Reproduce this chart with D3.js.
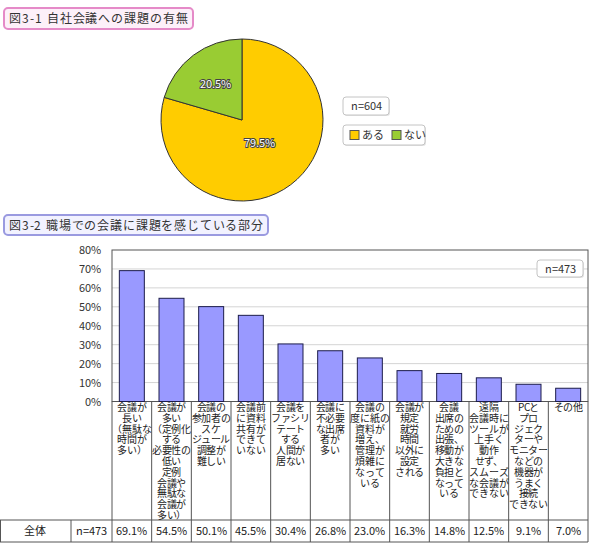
<!DOCTYPE html>
<html>
<head>
<meta charset="utf-8">
<script src="https://cdn.jsdelivr.net/npm/d3@7"></script>
<style>
  /* same CJK font, with the em box as line box so stacked lines sit tight */
  @font-face {
    font-family: "CJKTight";
    src: local("Noto Sans CJK JP"), local("Noto Sans CJK JP Regular"), local("NotoSansCJKjp-Regular");
    ascent-override: 88%;
    descent-override: 12%;
    line-gap-override: 0%;
  }
  body { margin: 0; background: #fff; }
  text { font-family: "CJKTight", "Noto Sans CJK JP", "Noto Sans", sans-serif; }
</style>
</head>
<body>
<div id="roott"></div>
<script>
// pie data
let pieLabels = ["ある", "ない"];
let pieValues = [79.5, 20.5];
let pieColors = ["#ffcc00", "#99cc33"];
let pieN = "n=604";

// bar data
let categories = [
  "会議が\n長い\n（無駄な\n時間が\n多い）",
  "会議が\n多い\n（定例化\nする\n必要性の\n低い\n定例\n会議や\n無駄な\n会議が\n多い）",
  "会議の\n参加者の\nスケ\nジュール\n調整が\n難しい",
  "会議前\nに資料\n共有が\nできて\nいない",
  "会議を\nファシリ\nテート\nする\n人間が\n居ない",
  "会議に\n不必要\nな出席\n者が\n多い",
  "会議の\n度に紙の\n資料が\n増え、\n管理が\n煩雑に\nなって\nいる",
  "会議が\n規定\n就労\n時間\n以外に\n設定\nされる",
  "会議\n出席の\nための\n出張、\n移動が\n大きな\n負担と\nなって\nいる",
  "遠隔\n会議時に\nツールが\n上手く\n動作\nせず、\nスムーズ\nな会議が\nできない",
  "PCと\nプロ\nジェク\nターや\nモニター\nなどの\n機器が\nうまく\n接続\nできない",
  "その他"
];
let barValues = [69.1, 54.5, 50.1, 45.5, 30.4, 26.8, 23.0, 16.3, 14.8, 12.5, 9.1, 7.0];
let yTicks = [0, 10, 20, 30, 40, 50, 60, 70, 80];
let barN = "n=473";
let rowLabel = "全体";

let title1 = "図3-1 自社会議への課題の有無";
let title2 = "図3-2 職場での会議に課題を感じている部分";

let widthh = 590, heightt = 552;

let svg = d3.select('#roott')
  .append('svg')
  .attr('width', widthh)
  .attr('height', heightt);

// title boxes
function titleBox(x, y, w, h, stroke, fill, txt) {
  svg.append('rect')
    .attr('x', x).attr('y', y).attr('width', w).attr('height', h)
    .attr('rx', 4)
    .style('fill', fill)
    .style('stroke', stroke)
    .style('stroke-width', 2);
  svg.append('text')
    .attr('x', x + 5)
    .attr('y', y + h / 2 + 4.5)
    .attr('textLength', w - 10)
    .attr('lengthAdjust', 'spacing')
    .style('font-size', '12px')
    .style('fill', '#333')
    .text(txt);
}
titleBox(4, 8, 189, 21, '#e58ac8', '#fdf0f9', title1);
titleBox(4, 215, 264, 20, '#9a9ae0', '#f2f2ff', title2);

// ---- pie ----
let pieG = svg.append('g').attr('transform', 'translate(242,120)');
let radius = 81;
let pie = d3.pie().sort(null).value(d => d);
let arc = d3.arc().innerRadius(0).outerRadius(radius);
// big slice label sits closer to the centre
let labelArc = d => {
  let r = d.data > 50 ? radius * 0.36 : radius * 0.55;
  return d3.arc().innerRadius(r).outerRadius(r).centroid(d);
};

pieG.selectAll('path')
  .data(pie(pieValues))
  .enter()
  .append('path')
  .attr('d', arc)
  .style('fill', (d, i) => pieColors[i])
  .style('stroke', '#333')
  .style('stroke-width', 1);

pieG.selectAll('text')
  .data(pie(pieValues))
  .enter()
  .append('text')
  .attr('transform', d => `translate(${labelArc(d)})`)
  .attr('text-anchor', 'middle')
  .attr('dy', '0.35em')
  .style('font-size', '11px')
  .style('fill', '#fff')
  .style('stroke', '#444')
  .style('stroke-width', 2)
  .style('paint-order', 'stroke')
  .text(d => d.data.toFixed(1) + '%');

function smallBox(x, y, w, h) {
  svg.append('rect')
    .attr('x', x + 1).attr('y', y + 1).attr('width', w).attr('height', h)
    .attr('rx', 3)
    .style('fill', '#e4e4e4');
  svg.append('rect')
    .attr('x', x).attr('y', y).attr('width', w).attr('height', h)
    .attr('rx', 3)
    .style('fill', '#fff')
    .style('stroke', '#c4c4c4');
}
smallBox(343, 97, 46, 18);
svg.append('text')
  .attr('x', 366).attr('y', 110)
  .attr('text-anchor', 'middle')
  .style('font-size', '11px').style('fill', '#333')
  .text(pieN);

smallBox(343, 125, 82, 20);
let legend = svg.selectAll('.leg')
  .data(pieLabels)
  .enter()
  .append('g')
  .attr('class', 'leg')
  .attr('transform', (d, i) => `translate(${350 + i * 42},135)`);
legend.append('rect')
  .attr('x', 0).attr('y', -4.5).attr('width', 9).attr('height', 9)
  .style('fill', (d, i) => pieColors[i])
  .style('stroke', '#555');
legend.append('text')
  .attr('x', 12).attr('y', 4)
  .style('font-size', '11px').style('fill', '#333')
  .text(d => d);

// ---- bars ----
let plotLeft = 112, plotRight = 588, plotTop = 250, plotBottom = 401.5;
let labelBottom = 520, rowBottom = 542;

let xScale = d3.scaleBand()
  .domain(categories)
  .range([plotLeft, plotRight])
  .paddingInner(0.37)
  .paddingOuter(0.185);

let yScale = d3.scaleLinear()
  .domain([0, 80])
  .range([plotBottom, plotTop]);

// gridlines
svg.append('g')
  .selectAll('line')
  .data(yTicks.filter(t => t > 0 && t < 80))
  .enter()
  .append('line')
  .attr('x1', plotLeft).attr('x2', plotRight)
  .attr('y1', d => yScale(d)).attr('y2', d => yScale(d))
  .style('stroke', '#d4d4d4');

// frame
svg.append('rect')
  .attr('x', plotLeft).attr('y', plotTop)
  .attr('width', plotRight - plotLeft).attr('height', plotBottom - plotTop)
  .style('fill', 'none')
  .style('stroke', '#555');

svg.append('g')
  .attr('transform', `translate(${plotLeft},0)`)
  .call(d3.axisLeft(yScale).tickValues(yTicks).tickSize(0).tickPadding(11).tickFormat(d => d + '%'))
  .call(g => g.select('.domain').remove())
  .call(g => g.selectAll('text')
    .style('font-family', '"CJKTight", "Noto Sans CJK JP", sans-serif')
    .style('font-size', '11px')
    .style('fill', '#333'));

svg.append('g')
  .selectAll('rect')
  .data(barValues)
  .enter()
  .append('rect')
  .attr('x', (d, i) => xScale(categories[i]))
  .attr('y', d => yScale(d))
  .attr('width', xScale.bandwidth())
  .attr('height', d => plotBottom - yScale(d))
  .style('fill', '#9999ff')
  .style('stroke', '#1c1c4a')
  .style('stroke-width', 1);

// n box
smallBox(537, 260, 46, 17);
svg.append('text')
  .attr('x', 560).attr('y', 272.5)
  .attr('text-anchor', 'middle')
  .style('font-size', '11px').style('fill', '#333')
  .text(barN);

// category label area + table
let step = xScale.step();
let colEdges = categories.map((c, i) => plotLeft + i * step).concat([plotRight]);

svg.append('g')
  .selectAll('line')
  .data(colEdges)
  .enter()
  .append('line')
  .attr('x1', d => d).attr('x2', d => d)
  .attr('y1', plotBottom).attr('y2', rowBottom)
  .style('stroke', '#555');

svg.append('line')
  .attr('x1', 0).attr('x2', plotRight)
  .attr('y1', labelBottom).attr('y2', labelBottom)
  .style('stroke', '#555');
svg.append('line')
  .attr('x1', 0).attr('x2', plotRight)
  .attr('y1', rowBottom).attr('y2', rowBottom)
  .style('stroke', '#555');
svg.append('line')
  .attr('x1', 0.5).attr('x2', 0.5)
  .attr('y1', labelBottom).attr('y2', rowBottom)
  .style('stroke', '#555');
svg.append('line')
  .attr('x1', 71).attr('x2', 71)
  .attr('y1', labelBottom).attr('y2', rowBottom)
  .style('stroke', '#555');

let catLabels = svg.append('g')
  .selectAll('text')
  .data(categories)
  .enter()
  .append('text')
  .attr('text-anchor', 'middle')
  .style('font-size', '10px')
  .style('letter-spacing', '-0.3px')
  .style('fill', '#222');
catLabels.each(function (d) {
  let t = d3.select(this);
  let cx = xScale(d) + xScale.bandwidth() / 2;
  d.split('\n').forEach((line, j) => {
    t.append('tspan')
      .attr('x', cx)
      .attr('y', 411 + j * 10.8)
      .text(line);
  });
});

svg.append('text')
  .attr('x', 35).attr('y', 535)
  .attr('text-anchor', 'middle')
  .style('font-size', '11px').style('fill', '#222')
  .text(rowLabel);
svg.append('text')
  .attr('x', 91.5).attr('y', 535)
  .attr('text-anchor', 'middle')
  .style('font-size', '11px').style('fill', '#222')
  .text(barN);

svg.append('g')
  .selectAll('text')
  .data(barValues)
  .enter()
  .append('text')
  .attr('x', (d, i) => xScale(categories[i]) + xScale.bandwidth() / 2)
  .attr('y', 535)
  .attr('text-anchor', 'middle')
  .style('font-size', '11px').style('fill', '#222')
  .text(d => d.toFixed(1) + '%');
</script>
</body>
</html>
